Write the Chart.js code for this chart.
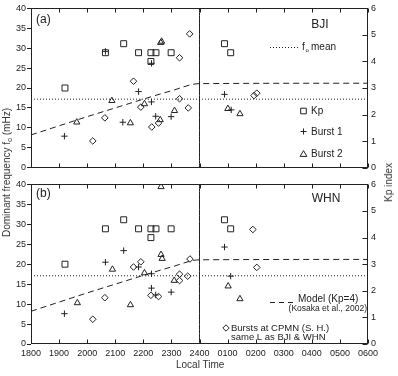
<!DOCTYPE html>
<html>
<head>
<meta charset="utf-8">
<script src="https://cdn.jsdelivr.net/npm/chart.js@4.4.0/dist/chart.umd.min.js"></script>
<style>
  body { margin: 0; background: #fff; font-family: "Liberation Sans", Arial, sans-serif; }
  #wrap { position: relative; width: 398px; height: 376px; overflow: hidden; }
  canvas { position: absolute; left: 0; }
  .ttl { position: absolute; font-size: 10px; font-weight: normal; color: #333; white-space: nowrap; line-height: 12px; }
  .rot { writing-mode: vertical-rl; transform: rotate(180deg); }
</style>
</head>
<body>
<div id="wrap">
  <canvas id="cA" width="398" height="176" style="top:0"></canvas>
  <canvas id="cB" width="398" height="200" style="top:176px"></canvas>
  <div class="ttl rot" id="tL" style="left:1px">Dominant frequency f<sub style="font-size:7px">o</sub> (mHz)</div>
  <div class="ttl rot" id="tR" style="left:383px">Kp index</div>
  <div class="ttl" id="tX" style="top:359px">Local Time</div>
</div>
<script>
// local time in hours (24 = midnight, 30 = 0600)
const xTickHours = [18, 19, 20, 21, 22, 23, 24, 25, 26, 27, 28, 29, 30];
const xTickLabels = ["1800", "1900", "2000", "2100", "2200", "2300", "2400",
  "0100", "0200", "0300", "0400", "0500", "0600"];

// Kp index (right axis), same in both panels
const kpTime = [19.21, 20.65, 21.30, 21.83, 22.27, 22.45, 22.27, 22.99, 24.89, 25.11];
const kpValue = [3.0, 4.33, 4.67, 4.33, 4.33, 4.33, 4.0, 4.33, 4.67, 4.33];

// model curve (Kp=4, Kosaka et al., 2002)
const modelTime = [18, 19, 20, 21, 22, 23, 24, 30];
const modelFreq = [8.2, 10.5, 12.8, 15.0, 17.2, 19.3, 21.1, 21.2];

// (a) BJI
const bjiMean = 17.2;
const bjiB1Time = [19.19, 20.65, 21.27, 21.83, 22.29, 22.29, 22.44, 22.99, 24.89, 25.13];
const bjiB1Freq = [7.9, 29.2, 11.4, 19.1, 16.5, 26.2, 12.9, 12.8, 18.4, 14.5];
const bjiB2Time = [19.63, 20.88, 21.54, 22.04, 22.60, 22.62, 22.65, 23.11, 25.01, 25.44];
const bjiB2Freq = [11.4, 16.8, 11.2, 16.0, 12.0, 31.4, 31.7, 14.3, 14.8, 13.5];
const bjiCpmnTime = [20.20, 20.63, 21.65, 21.91, 22.30, 22.54, 23.29, 23.29, 23.60, 23.65, 25.94, 26.04];
const bjiCpmnFreq = [6.7, 12.5, 21.7, 15.2, 10.2, 11.2, 17.3, 27.6, 15.0, 33.6, 18.1, 18.7];

// (b) WHN
const whnMean = 17.1;
const whnB1Time = [19.19, 20.65, 21.30, 21.83, 22.29, 22.29, 22.44, 22.99, 24.89, 25.11];
const whnB1Freq = [7.6, 20.5, 23.4, 19.3, 17.6, 14.0, 12.3, 13.0, 24.3, 17.0];
const whnB2Time = [19.65, 20.90, 21.54, 22.04, 22.63, 22.67, 22.63, 23.10, 25.02, 25.44];
const whnB2Freq = [10.3, 18.7, 9.8, 17.8, 22.4, 21.4, 39.4, 15.9, 14.5, 11.3];
const whnCpmnTime = [20.20, 20.63, 21.65, 21.91, 22.27, 22.54, 23.29, 23.29, 23.58, 23.66, 25.90, 26.04];
const whnCpmnFreq = [6.2, 11.6, 19.3, 20.6, 12.2, 11.9, 17.5, 15.9, 17.0, 21.3, 28.7, 19.2];

const INK = "#222";
const FONT = '"Liberation Sans", Arial, sans-serif';

// center the html axis titles on whole pixels
function place(id, cx, cy) {
  const el = document.getElementById(id);
  if (cx !== null) el.style.left = Math.round(cx - el.offsetWidth / 2) + "px";
  if (cy !== null) el.style.top = Math.round(cy - el.offsetHeight / 2) + "px";
}
place("tL", null, 172);
place("tR", null, 182);
place("tX", 200, null);

function pts(xs, ys) {
  return xs.map((x, i) => ({ x: x, y: ys[i] }));
}

function markerSet(label, xs, ys, style, r, axis) {
  return {
    label, type: "scatter", data: pts(xs, ys), yAxisID: axis || "y",
    pointStyle: style, pointRadius: r, pointHoverRadius: r,
    pointBorderColor: INK, pointBackgroundColor: "rgba(0,0,0,0)", pointBorderWidth: 1,
    showLine: false,
  };
}

function lineSet(label, data, dash) {
  return {
    label, type: "line", data, yAxisID: "y",
    borderColor: INK, borderWidth: 1, borderDash: dash, pointRadius: 0,
    fill: false, tension: 0.3, cubicInterpolationMode: "monotone",
  };
}

// small hand-drawn legend symbols
function symbol(ctx, style, x, y) {
  ctx.beginPath();
  if (style === "rect") ctx.rect(x - 2.8, y - 2.8, 5.6, 5.6);
  else if (style === "cross") { ctx.moveTo(x - 3, y); ctx.lineTo(x + 3, y); ctx.moveTo(x, y - 3); ctx.lineTo(x, y + 3); }
  else if (style === "triangle") { ctx.moveTo(x, y - 3.4); ctx.lineTo(x + 3.4, y + 2.4); ctx.lineTo(x - 3.4, y + 2.4); ctx.closePath(); }
  else if (style === "rectRot") { ctx.moveTo(x, y - 3.2); ctx.lineTo(x + 3.2, y); ctx.lineTo(x, y + 3.2); ctx.lineTo(x - 3.2, y); ctx.closePath(); }
  ctx.stroke();
}

// frame, inward ticks, annotations
const deco = {
  id: "deco",
  afterDatasetsDraw(chart, args, o) {
    const { ctx, chartArea: a, scales } = chart;
    ctx.save();
    ctx.strokeStyle = INK;
    ctx.fillStyle = INK;
    ctx.lineWidth = 1;
    ctx.setLineDash([]);
    const L = Math.round(a.left) + 0.5, R = Math.round(a.right) - 0.5;
    const T = Math.round(a.top) + 0.5, B = Math.round(a.bottom) - 0.5;
    ctx.strokeRect(L, T, R - L, B - T);
    ctx.beginPath();
    xTickHours.forEach((h) => {
      const px = Math.round(scales.x.getPixelForValue(h)) + 0.5;
      ctx.moveTo(px, B); ctx.lineTo(px, B - 4);
      ctx.moveTo(px, T); ctx.lineTo(px, T + 4);
    });
    for (let k = 0; k <= 6; k++) {
      const py = Math.round(scales.y2.getPixelForValue(k)) + 0.5;
      ctx.moveTo(R - 5, py); ctx.lineTo(R, py);
    }
    ctx.stroke();

    (o.lines || []).forEach((l) => {
      ctx.beginPath();
      ctx.setLineDash(l.dash);
      ctx.moveTo(l.x1, l.y + 0.5); ctx.lineTo(l.x2, l.y + 0.5);
      ctx.stroke();
    });
    ctx.setLineDash([]);
    (o.marks || []).forEach((m) => symbol(ctx, m.style, m.x, m.y));
    ctx.textBaseline = "middle";
    (o.texts || []).forEach((t) => {
      ctx.font = t.size + "px " + FONT;
      ctx.textAlign = t.align || "left";
      ctx.fillText(t.t, t.x, t.y);
    });
    ctx.restore();
  },
};

function makePanel(id, mean, b1t, b1f, b2t, b2f, ct, cf, showX, decoOpts, xHeight) {
  const meanData = [{ x: 18, y: mean }, { x: 30, y: mean }];
  const midnight = [{ x: 24, y: 0 }, { x: 24, y: 40 }];
  return new Chart(document.getElementById(id), {
    type: "scatter",
    data: {
      datasets: [
        markerSet("Kp", kpTime, kpValue, "rect", 4.2, "y2"),
        markerSet("Burst 1", b1t, b1f, "cross", 3.2),
        markerSet("Burst 2", b2t, b2f, "triangle", 3.6),
        markerSet("CPMN", ct, cf, "rectRot", 3.3),
        lineSet("Model", pts(modelTime, modelFreq), [6, 4]),
        { ...lineSet("mean", meanData, [1, 2]), tension: 0 },
        { ...lineSet("2400", midnight, []), tension: 0 },
      ],
    },
    options: {
      responsive: false,
      animation: false,
      events: [],
      layout: { padding: { top: 6, left: 0, right: 0, bottom: 0 } },
      plugins: { legend: { display: false }, tooltip: { enabled: false }, deco: decoOpts },
      scales: {
        x: {
          type: "linear", min: 18, max: 30,
          afterBuildTicks: (s) => { s.ticks = xTickHours.map((v) => ({ value: v })); },
          grid: { display: false, drawTicks: false, tickLength: 0 },
          border: { display: false },
          ticks: {
            display: showX, padding: 4, color: INK, font: { family: FONT, size: 9 },
            maxRotation: 0, autoSkip: false,
            callback: (v) => xTickLabels[xTickHours.indexOf(v)],
          },
          afterFit: (s) => { s.height = xHeight; },
        },
        y: {
          position: "left", min: 0, max: 40,
          ticks: { stepSize: 5, padding: 1, color: INK, font: { family: FONT, size: 9 } },
          grid: { drawOnChartArea: false, tickLength: 4, color: INK },
          border: { display: false },
          afterFit: (s) => { s.width = 31; },
        },
        y2: {
          position: "right", min: 0, max: 6,
          ticks: { stepSize: 1, padding: 3, color: INK, font: { family: FONT, size: 9 } },
          grid: { display: false, drawTicks: false, tickLength: 0 },
          border: { display: false },
          afterFit: (s) => { s.width = 30; },
        },
      },
    },
    plugins: [deco],
  });
}

makePanel("cA", bjiMean, bjiB1Time, bjiB1Freq, bjiB2Time, bjiB2Freq, bjiCpmnTime, bjiCpmnFreq, false, {
  texts: [
    { t: "(a)", x: 36, y: 20, size: 12 },
    { t: "BJI", x: 320, y: 25, size: 12, align: "center" },
    { t: "f", x: 302, y: 47, size: 10 },
    { t: "o", x: 305.5, y: 50, size: 6 },
    { t: "mean", x: 311, y: 47, size: 10 },
    { t: "Kp", x: 311, y: 111, size: 10 },
    { t: "Burst 1", x: 311, y: 132, size: 10 },
    { t: "Burst 2", x: 311, y: 154, size: 10 },
  ],
  marks: [
    { style: "rect", x: 303.5, y: 111 },
    { style: "cross", x: 303.5, y: 131.5 },
    { style: "triangle", x: 303.5, y: 154 },
  ],
  lines: [{ x1: 270, x2: 298, y: 47, dash: [1, 2] }],
}, 4);

makePanel("cB", whnMean, whnB1Time, whnB1Freq, whnB2Time, whnB2Freq, whnCpmnTime, whnCpmnFreq, true, {
  texts: [
    { t: "(b)", x: 36, y: 18, size: 12 },
    { t: "WHN", x: 326, y: 23, size: 12, align: "center" },
    { t: "Model (Kp=4)", x: 298, y: 123, size: 10 },
    { t: "(Kosaka et al., 2002)", x: 367, y: 132.5, size: 8.5, align: "right" },
    { t: "Bursts at CPMN (S. H.)", x: 231, y: 152, size: 9.5 },
    { t: "same L as BJI & WHN", x: 231, y: 161, size: 9.5 },
  ],
  marks: [{ style: "rectRot", x: 226, y: 152 }],
  lines: [{ x1: 270, x2: 297, y: 126, dash: [5, 4] }],
}, 32);
</script>
</body>
</html>
